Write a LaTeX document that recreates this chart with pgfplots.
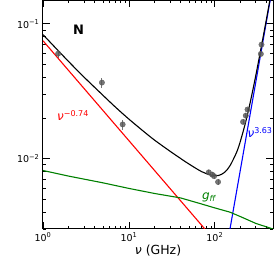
\documentclass[border=0pt]{standalone}
\usepackage{pgfplots}
\pgfplotsset{compat=1.18}
\usepackage{fontspec}
\setmainfont{DejaVu Sans}
\definecolor{mplgreen}{rgb}{0,0.5,0}
\definecolor{ptgray}{rgb}{0.33,0.33,0.33}
\begin{document}
\begin{tikzpicture}
\path[use as bounding box] (-43pt,-30pt) rectangle (231pt,229pt);
\begin{axis}[
  at={(0,0)}, anchor=south west,
  scale only axis, width=230pt, height=229pt,
  xmode=log, ymode=log,
  xmin=1, xmax=475, ymin=0.003, ymax=0.15,
  axis line style={line width=1pt},
  tick style={line width=0.8pt, black},
  tick align=inside,
  major tick length=7pt, minor tick length=3.5pt,
  xtick={1,10,100}, xticklabels={10\textsuperscript{0},10\textsuperscript{1},10\textsuperscript{2}},
  ytick={0.01,0.1}, yticklabels={10\textsuperscript{−2},10\textsuperscript{−1}},
  minor xtick={2,3,4,5,6,7,8,9,20,30,40,50,60,70,80,90,200,300,400},
  minor ytick={0.003,0.004,0.005,0.006,0.007,0.008,0.009,0.02,0.03,0.04,0.05,0.06,0.07,0.08,0.09},
  ticklabel style={font=\fontsize{9.5}{10}\selectfont},
  xlabel={{\itshape ν} (GHz)},
  xlabel style={font=\fontsize{12.5}{13}\selectfont, yshift=3pt},
  clip=true,
]
% red power law
\addplot[red, line width=1.1pt] coordinates {(1,0.0748) (475,0.000775)};
% blue power law
\addplot[blue, line width=1.1pt] coordinates {(150,0.003) (440,0.149) (475,0.197)};
% green free-free
\addplot[mplgreen, line width=1.1pt] coordinates {
(1,0.00815) (2,0.0074) (5,0.0066) (10,0.0060) (20,0.0055) (40,0.0051)
(70,0.0046) (100,0.0043) (150,0.0040) (200,0.0037) (300,0.0033) (475,0.0030)};
% total
\addplot[black, line width=1.1pt, smooth] coordinates {
(1,0.0830) (1.5,0.0632) (2,0.0522) (3,0.0402) (5,0.0294) (7,0.0240) (10,0.0196)
(15,0.0158) (20,0.01365) (30,0.01134) (40,0.0100) (50,0.0091) (70,0.0080)
(90,0.00754) (110,0.00748) (130,0.0079) (150,0.00884) (180,0.0112) (200,0.0137)
(230,0.0190) (260,0.0267) (300,0.0415) (350,0.0693) (400,0.1096) (440,0.153)};
% data
\addplot[only marks, mark=*, mark size=2.7pt, ptgray, fill opacity=0.8, draw opacity=0.8,
  error bars/.cd, y dir=both, y explicit, error bar style={ptgray, line width=0.9pt}, error mark=none]
coordinates {
(1.5,0.060) +- (0,0.004)
(4.85,0.0366) +- (0,0.003)
(8.45,0.0179) +- (0,0.0015)
(85,0.0079) +- (0,0.0003)
(93,0.0076) +- (0,0.0003)
(98,0.0074) +- (0,0.0003)
(109,0.0067) +- (0,0.0003)
(213,0.0187) +- (0,0.0008)
(229,0.0208) +- (0,0.0008)
(240,0.0231) +- (0,0.0008)
(343,0.0597) +- (0,0.003)
(349,0.070) +- (0,0.003)
};
\node[anchor=base west, inner sep=0pt, font=\bfseries\fontsize{13}{14}\selectfont] at (axis cs:2.23,0.083) {N};
\node[anchor=base west, red, font=\fontsize{12}{13}\selectfont, inner sep=0pt] at (axis cs:1.455,0.0191) {{\itshape ν}\textsuperscript{−0.74}};
\node[anchor=base west, blue, font=\fontsize{12}{13}\selectfont, inner sep=0pt] at (axis cs:239,0.0143) {{\itshape ν}\textsuperscript{3.63}};
\node[anchor=base west, mplgreen, font=\fontsize{12}{13}\selectfont, inner sep=0pt] at (axis cs:70.6,0.00497) {{\itshape g}\textsubscript{\itshape ff}};
\end{axis}
\end{tikzpicture}
\end{document}
